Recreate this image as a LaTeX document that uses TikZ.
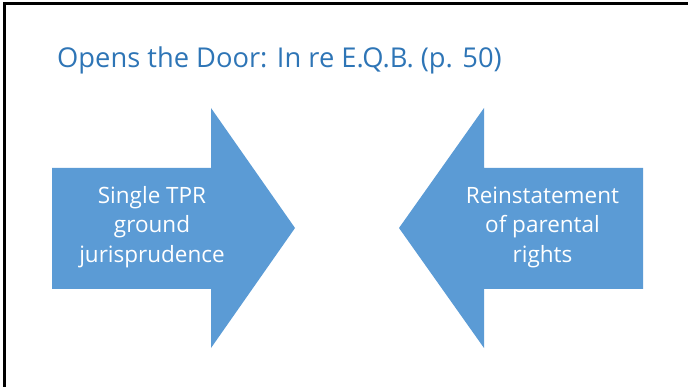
\documentclass[tikz,border=0pt]{standalone}
\usepackage{fontspec}
\setmainfont{Open Sans}
\definecolor{arrowblue}{HTML}{5B9BD5}
\definecolor{titleblue}{HTML}{2E75B6}
\begin{document}
\begin{tikzpicture}[x=1pt, y=-1pt,
    arrowfill/.style={fill=arrowblue},
    arrowtext/.style={text=white, align=center, inner sep=0pt,
        font=\fontsize{22.5}{29.5}\selectfont}]
\useasboundingbox (0,0) rectangle (688,387);
% frame
\draw[line width=3pt](4.5,387)--(4.5,4)--(688,4);
\node[titleblue, anchor=base west, inner sep=0pt, font=\fontsize{27.3}{33}\selectfont] (title) at (57,68) {Opens the Door: In re E.Q.B. (p. 50)};
% left arrow
\fill[arrowfill](52,168)--(211,168)--(211,108)--(295,228)--(211,348)--(211,289)--(52,289)--cycle;
\node[arrowtext] (single) at (152,227) {Single TPR\\ground\\jurisprudence};
% right arrow
\fill[arrowfill](643,168)--(484,168)--(484,108)--(399,228)--(484,348)--(484,289)--(643,289)--cycle;
\node[arrowtext] (reinstate) at (542.5,227) {Reinstatement\\of parental\\rights};
\end{tikzpicture}
\end{document}
